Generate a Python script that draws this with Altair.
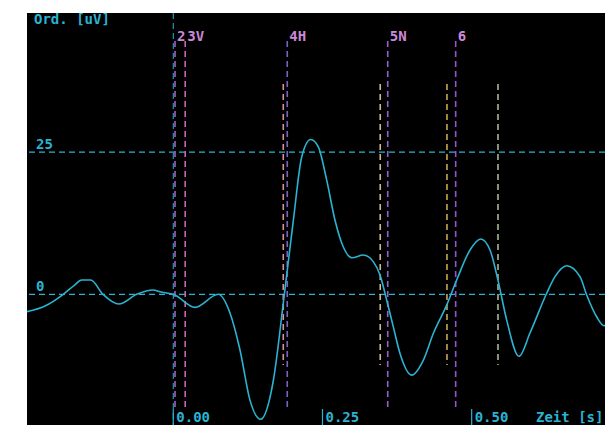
import altair as alt
import pandas as pd

# curve (time in s, amplitude in uV)
t_vals = [-0.2453, -0.215, -0.1843, -0.1654, -0.1535, -0.1384, -0.1178, -0.0910, -0.0613,
          -0.0340, -0.0223, 0.0023, 0.0364, 0.0754, 0.0950, 0.1118, 0.1285, 0.1464, 0.1671,
          0.1863, 0.2011, 0.2151, 0.2302, 0.2430, 0.2570, 0.2709, 0.2849, 0.2994, 0.3184,
          0.3351, 0.3464, 0.3576, 0.3686, 0.3799, 0.3995, 0.4189, 0.4357, 0.4581, 0.4749,
          0.4972, 0.5151, 0.5307, 0.5446, 0.5586, 0.5793, 0.5977, 0.6257, 0.6396, 0.6592,
          0.6815, 0.6927, 0.7094, 0.7217, 0.7346, 0.748]
v_vals = [-3.06, -2.06, 0.0, 1.63, 2.51, 2.51, 0.0, -1.71, 0.0,
          0.76, 0.46, -0.12, -2.29, 0.0, -3.29, -9.79, -18.6, -21.97, -15.5,
          0.18, 12.9, 24.1, 27.2, 25.9, 20.1, 13.06, 8.32, 6.42, 6.91,
          5.74, 3.39, -1.0, -5.68, -10.4, -14.2, -11.6, -6.89, -1.90, 2.51,
          7.79, 9.72, 7.79, 2.22, -4.5, -10.9, -6.8, 0.18, 3.1, 5.02,
          3.1, -0.12, -3.94, -5.52, -3.64, -1.5]

# long markers
marker_t = [0.0029, 0.0200, 0.1910, 0.3593, 0.4732]
marker_col = ["#9a62c8", "#d062bc", "#7a62c8", "#9462cc", "#9a52d0"]
label_t = [0.0029, 0.0200, 0.1910, 0.3593, 0.4732]
label_txt = ["2", "3V", "4H", "5N", "6"]

# short markers
short_t = [0.1843, 0.3468, 0.4586, 0.5441]
short_col = ["#d8909a", "#d0b890", "#c8a850", "#a8b890"]

# grid / axis
hlines = [0, 25]
ytick_lbl = ["0", "25"]
xtick_t = [0.0, 0.25, 0.50]
xtick_lbl = ["0.00", "0.25", "0.50"]

XMIN, XMAX = -0.2451, 0.7234
YMIN, YMAX = -22.97, 49.44
CYAN = "#2bb3d2"
FONT = "DejaVu Sans Mono"

xs = alt.Scale(domain=[XMIN, XMAX], nice=False, zero=False)
ys = alt.Scale(domain=[YMIN, YMAX], nice=False, zero=False)

curve = pd.DataFrame({"t": t_vals, "v": v_vals})
markers = pd.DataFrame({"t": marker_t, "c": marker_col})
shorts = pd.DataFrame({"t": short_t, "c": short_col})
labels = pd.DataFrame({"t": label_t, "s": label_txt})
hl = pd.DataFrame({"v": hlines, "s": ytick_lbl})
xt = pd.DataFrame({"t": xtick_t, "s": xtick_lbl})

X = lambda f="t": alt.X(f"{f}:Q", scale=xs, axis=None)
Y = lambda f="v": alt.Y(f"{f}:Q", scale=ys, axis=None)

h = alt.Chart(hl).mark_rule(color=CYAN, strokeDash=[6, 4], strokeWidth=1.2).encode(y=Y())
yaxis = alt.Chart(pd.DataFrame({"t": [0.0]})).mark_rule(color=CYAN, strokeDash=[6, 4], strokeWidth=1).encode(x=X())

long_m = alt.Chart(markers).mark_rule(strokeDash=[6, 4], strokeWidth=1.6).encode(
    x=X(), y=alt.value(28), y2=alt.value(395), color=alt.Color("c:N", scale=None))
short_m = alt.Chart(shorts).mark_rule(strokeDash=[6, 4], strokeWidth=1.6).encode(
    x=X(), y=alt.value(71), y2=alt.value(352), color=alt.Color("c:N", scale=None))

line = alt.Chart(curve).mark_line(color=CYAN, strokeWidth=1.6, interpolate="monotone", clip=True).encode(
    x=X(), y=Y())

lbl = alt.Chart(labels).mark_text(color="#cc88d8", font=FONT, fontWeight="bold", fontSize=14,
                                  align="left", baseline="alphabetic", dx=2).encode(
    x=X(), y=alt.value(28), text="s:N")

ylbl = alt.Chart(hl).mark_text(color=CYAN, font=FONT, fontWeight="bold", fontSize=14,
                               align="left", baseline="alphabetic", dy=-3).encode(
    x=alt.value(9), y=Y(), text="s:N")

xticks = alt.Chart(xt).mark_rule(color=CYAN, strokeWidth=1.2).encode(
    x=X(), y=alt.value(396), y2=alt.value(412))
xlbl = alt.Chart(xt).mark_text(color=CYAN, font=FONT, fontWeight="bold", fontSize=14,
                               align="left", baseline="alphabetic", dx=3).encode(
    x=X(), y=alt.value(409), text="s:N")

title_y = alt.Chart(pd.DataFrame({"s": ["Ord. [uV]"]})).mark_text(
    color=CYAN, font=FONT, fontWeight="bold", fontSize=14, align="left", baseline="alphabetic").encode(
    x=alt.value(7), y=alt.value(11), text="s:N")
title_x = alt.Chart(pd.DataFrame({"s": ["Zeit [s]"]})).mark_text(
    color=CYAN, font=FONT, fontWeight="bold", fontSize=14, align="left", baseline="alphabetic").encode(
    x=alt.value(509), y=alt.value(409), text="s:N")

chart = alt.layer(h, yaxis, short_m, long_m, line, lbl, ylbl, xticks, xlbl, title_y, title_x).properties(
    width=578, height=412,
    padding={"left": 19, "top": 5, "right": 0, "bottom": 0},
    autosize=alt.AutoSizeParams(type="none"),
    background="white",
).configure_view(fill="black", stroke=None)

chart.save("out.html", embed_options={"renderer": "svg", "actions": False})
